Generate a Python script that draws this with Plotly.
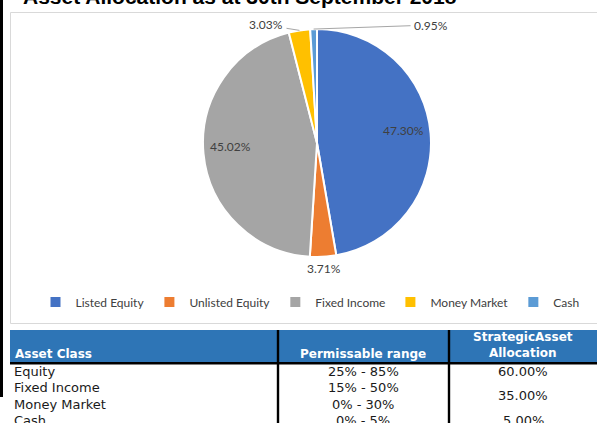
import math
import plotly.graph_objects as go

# ---------------- data ----------------
categories = ["Listed Equity", "Unlisted Equity", "Fixed Income", "Money Market", "Cash"]
shares = [47.30, 3.71, 45.02, 3.03, 0.95]
slice_colors = ["#4472C4", "#ED7D31", "#A5A5A5", "#FFC000", "#5B9BD5"]

title_text = "Asset Allocation as at 30th September 2018"

table_header = ["Asset Class", "Permissable range", "StrategicAsset<br>Allocation"]
asset_classes = ["Equity", "Fixed Income", "Money Market", "Cash"]
permissible_ranges = ["25% - 85%", "15% - 50%", "0% - 30%", "0% - 5%"]
strategic_allocations = ["60.00%", "35.00%", "5.00%"]
strategic_row_spans = [[0], [1, 2], [3]]

# ---------------- layout helpers ----------------
W, H = 597, 423


def px(x):
    return x / W


def py(y):
    return (H - y) / H


CX, CY, R = 317, 143, 114          # pie centre / radius (pixels)
LABEL_FONT = dict(family="Lato, Calibri, sans-serif", size=12, color="#404040")
TABLE_FONT = "DejaVu Sans, Century Gothic, sans-serif"
leader_text_pos = {"Money Market": (266, 25), "Cash": (431, 25)}


def note(x, y, text, font, xanchor="center", yanchor="middle", **kw):
    d = dict(x=px(x), y=py(y), xref="paper", yref="paper", text=text,
             showarrow=False, font=font, xanchor=xanchor, yanchor=yanchor)
    d.update(kw)
    return d


fig = go.Figure()

fig.add_trace(go.Pie(
    labels=categories,
    values=shares,
    sort=False,
    direction="clockwise",
    rotation=0,
    marker=dict(colors=slice_colors, line=dict(color="white", width=2)),
    textinfo="none",
    hoverinfo="label+percent",
    domain=dict(x=[px(CX - R), px(CX + R)], y=[py(CY + R), py(CY - R)]),
    showlegend=True,
))

annotations = []
shapes = []

# ---------------- slice labels ----------------
total = sum(shares)
cum = 0.0
for cat, v in zip(categories, shares):
    mid = (cum + v / 2) / total * 2 * math.pi
    cum += v
    text = f"{v:.2f}%"
    sx, sy = math.sin(mid), -math.cos(mid)
    if v > 10:
        annotations.append(note(CX + 0.76 * R * sx, CY + 0.76 * R * sy - 5, text, LABEL_FONT))
    elif cat in leader_text_pos:
        tx, ty = CX + R * sx, CY + R * sy
        lx, ly = leader_text_pos[cat]
        annotations.append(dict(x=px(tx), y=py(ty), xref="paper", yref="paper",
                                ax=lx - tx, ay=ly - ty, text=text, showarrow=True,
                                arrowhead=0, arrowwidth=1, arrowcolor="#A6A6A6",
                                standoff=0, startstandoff=2, font=LABEL_FONT,
                                xanchor="center", yanchor="middle"))
    else:
        annotations.append(note(CX + 1.1 * R * sx, CY + 1.1 * R * sy, text, LABEL_FONT))

# ---------------- title (cut off at top, as in the source) ----------------
annotations.append(note(21, 10, f"<b>{title_text}</b>",
                        dict(family="Liberation Sans, Arial, sans-serif", size=21, color="#000000"),
                        xanchor="left", yanchor="bottom"))

# ---------------- frame shapes ----------------
def rect(x0, y0, x1, y1, fill=None, line=None, layer="above"):
    d = dict(type="rect", xref="paper", yref="paper",
             x0=px(x0), x1=px(x1), y0=py(y1), y1=py(y0), layer=layer)
    d["fillcolor"] = fill if fill else "rgba(0,0,0,0)"
    d["line"] = line if line else dict(width=0)
    return d


shapes.append(rect(0, 0, 3, 397, fill="#000000"))
shapes.append(rect(10.5, 12.5, 605, 323.5, line=dict(color="#D9D9D9", width=1), layer="below"))

# ---------------- table ----------------
HEAD_TOP, HEAD_BOT = 330, 362
ROW0, ROW_H = 371.5, 16.3
COL_EDGES = [10, 278, 449, 600]
shapes.append(rect(10, HEAD_TOP, 600, HEAD_BOT, fill="#2E75B6"))
shapes.append(rect(10, HEAD_BOT, 600, HEAD_BOT + 2.5, fill="#000000"))
for xe in COL_EDGES[1:3]:
    shapes.append(rect(xe - 1.2, HEAD_TOP, xe + 1.2, H, fill="#000000"))

COL2_X, COL3_X = 363, 523
head_font = dict(family=TABLE_FONT, size=12, color="white")
annotations.append(note(13, 354, f"<b>{table_header[0]}</b>", head_font, xanchor="left"))
annotations.append(note(COL2_X, 354, f"<b>{table_header[1]}</b>", head_font))
annotations.append(note(COL3_X, 345, f"<b>{table_header[2]}</b>", head_font))

cell_font = dict(family=TABLE_FONT, size=13, color="#1A1A1A")
for i, (ac, rg) in enumerate(zip(asset_classes, permissible_ranges)):
    yc = ROW0 + i * ROW_H
    annotations.append(note(12, yc, ac, cell_font, xanchor="left"))
    annotations.append(note(COL2_X, yc, rg, cell_font))
for val, rows in zip(strategic_allocations, strategic_row_spans):
    yc = ROW0 + ROW_H * sum(rows) / len(rows)
    annotations.append(note(COL3_X, yc, val, cell_font))

fig.update_layout(
    width=W, height=H,
    margin=dict(l=0, r=0, t=0, b=0),
    paper_bgcolor="white", plot_bgcolor="white",
    showlegend=True,
    legend=dict(orientation="h", x=px(310), xanchor="center", y=py(302), yanchor="middle",
                font=dict(family="Lato, Calibri, sans-serif", size=12, color="#404040"),
                bgcolor="rgba(0,0,0,0)", traceorder="normal"),
    annotations=annotations,
    shapes=shapes,
)

fig.write_html("out.html")
